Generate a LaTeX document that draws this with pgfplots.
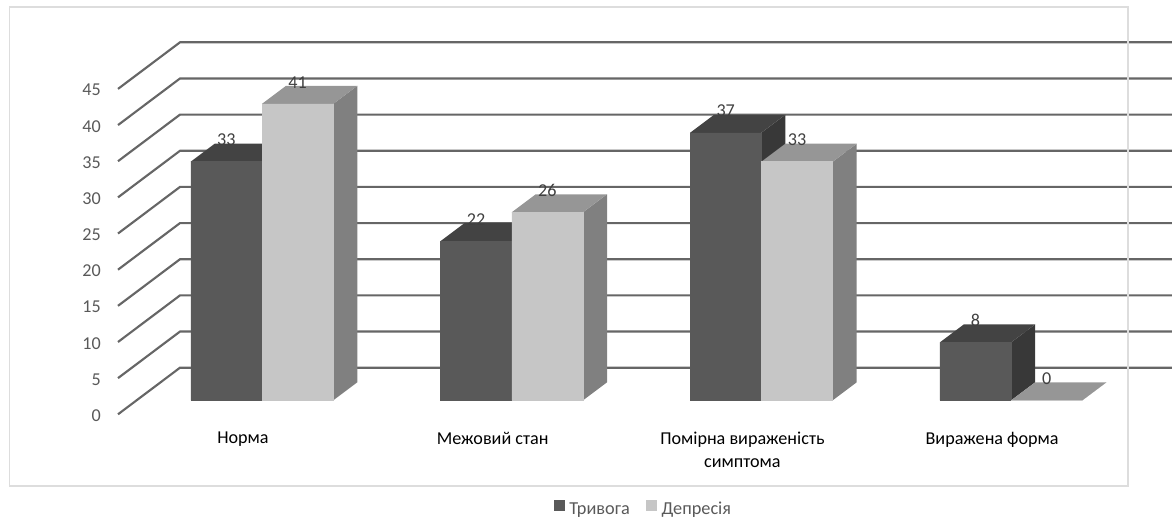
\documentclass[border=0pt]{standalone}
\usepackage{fontspec}
\setmainfont{Carlito}
\usepackage{pgfplots}
\usepackage{pgfplotstable}
\pgfplotsset{compat=1.18}

\definecolor{gridc}{HTML}{666666}
\definecolor{framec}{HTML}{DDDDDD}
\definecolor{darkfront}{HTML}{595959}
\definecolor{darktop}{HTML}{434343}
\definecolor{darkside}{HTML}{383838}
\definecolor{lightfront}{HTML}{C6C6C6}
\definecolor{lighttop}{HTML}{969696}
\definecolor{lightside}{HTML}{808080}
\definecolor{ticktext}{HTML}{595959}
\definecolor{valtext}{HTML}{404040}

% Values per category; pos is the centre of the cluster
\pgfplotstableread{
pos trevoga depresia
0   33      41
1   22      26
2   37      33
3   8       0
}\results

% Half bar width and the receding depth of the 3D bars, in data units
\def\halfbar{0.1428}
\def\depthx{0.0961}
\def\depthy{2.489}

% Top and side faces of one bar: row, column, x shift of the bar, side colour, top colour
\newcommand\barfaces[5]{%
  \pgfplotstablegetelem{#1}{#2}\of\results
  \pgfmathsetmacro\vv{\pgfplotsretval}%
  \pgfmathsetmacro\xl{#1+#3-\halfbar}%
  \pgfmathsetmacro\xr{#1+#3+\halfbar}%
  \pgfmathsetmacro\xlb{\xl+\depthx}%
  \pgfmathsetmacro\xrb{\xr+\depthx}%
  \pgfmathsetmacro\vb{\vv+\depthy}%
  \edef\doplot{\noexpand\addplot[forget plot,fill=#4,draw=none] coordinates
    {(\xr,0) (\xrb,\depthy) (\xrb,\vb) (\xr,\vv)} -- cycle;
    \noexpand\addplot[forget plot,fill=#5,draw=none] coordinates
    {(\xl,\vv) (\xlb,\vb) (\xrb,\vb) (\xr,\vv)} -- cycle;}%
  \doplot
}

\begin{document}
\begin{tikzpicture}
\useasboundingbox (0,0) rectangle (879pt,389.25pt);
\begin{axis}[
  at={(0,0)}, anchor=south west,
  scale only axis, width=879pt, height=389.25pt,
  xmin=-1.04925, xmax=3.6444, ymin=-16.416, ymax=55.36,
  clip=false,
  axis line style={draw=none},
  tick style={draw=none},
  major tick length=0pt,
  /pgf/number format/assume math mode=true,
  font=\fontsize{13.6pt}{17.2pt}\selectfont,
  xtick={0,1,2,3},
  xticklabels={Норма,Межовий стан,{Помірна вираженість\\симптома},Виражена форма},
  xticklabel style={anchor=north, xshift=-14.25pt, yshift=65.6pt, align=center, inner sep=0pt, text=black},
  ytick={-1.936,3.064,8.064,13.064,18.064,23.064,28.064,33.064,38.064,43.064},
  yticklabels={0,5,10,15,20,25,30,35,40,45},
  yticklabel style={anchor=east, xshift=75.75pt, yshift=-0.9pt, inner sep=0pt, text=ticktext},
  legend columns=2,
  legend style={at={(0.5495,0.0173)}, anchor=center, draw=none, fill=none, inner sep=0pt,
    text=ticktext, font=\fontsize{13.7pt}{15pt}\selectfont,
    nodes={text height=9.5pt, text depth=3pt},
    /tikz/every odd column/.append style={column sep=1.5pt},
    /tikz/every even column/.append style={column sep=10.5pt}},
  legend cell align=left,
]
% Wall and floor lines
\pgfplotsinvokeforeach{0,5,...,45}{
  \pgfmathsetmacro\yfront{#1-1.936}
  \pgfmathsetmacro\yback{#1+4.508}
  \edef\doline{\noexpand\addplot[forget plot,draw=gridc,line width=1.6pt] coordinates
    {(-0.5767,\yfront) (-0.3284,\yback) (3.6444,\yback)};}
  \doline
}
% Chart area border
\addplot[forget plot,draw=framec,line width=1.1pt] coordinates
  {(-1.0112,54.39) (3.4682,54.39) (3.4682,-11.85) (-1.0112,-11.85)} -- cycle;

% Value labels sit behind the bars
\addplot[forget plot,draw=none,nodes near coords,
  nodes near coords style={anchor=center,yshift=16.2pt,inner sep=0pt,text=valtext}]
  table[x expr=\thisrow{pos}-\halfbar,y=trevoga]{\results};
\addplot[forget plot,draw=none,nodes near coords,
  nodes near coords style={anchor=center,yshift=16.2pt,inner sep=0pt,text=valtext}]
  table[x expr=\thisrow{pos}+\halfbar,y=depresia]{\results};

% Dark series
\barfaces{0}{trevoga}{-\halfbar}{darkside}{darktop}
\barfaces{1}{trevoga}{-\halfbar}{darkside}{darktop}
\barfaces{2}{trevoga}{-\halfbar}{darkside}{darktop}
\barfaces{3}{trevoga}{-\halfbar}{darkside}{darktop}
\addplot[ybar,bar width=53.3pt,bar shift=-26.74pt,fill=darkfront,draw=darkfront,line width=0.3pt,
  legend image code/.code={\fill[darkfront] (0pt,-0.5pt) rectangle (7.5pt,7pt);}]
  table[x=pos,y=trevoga]{\results};
\addlegendentry{Тривога}

% Light series
\barfaces{0}{depresia}{\halfbar}{lightside}{lighttop}
\barfaces{1}{depresia}{\halfbar}{lightside}{lighttop}
\barfaces{2}{depresia}{\halfbar}{lightside}{lighttop}
\barfaces{3}{depresia}{\halfbar}{lightside}{lighttop}
\addplot[ybar,bar width=53.3pt,bar shift=26.74pt,fill=lightfront,draw=lightfront,line width=0.3pt,
  legend image code/.code={\fill[lightfront] (0pt,-0.5pt) rectangle (7.5pt,7pt);}]
  table[x=pos,y=depresia]{\results};
\addlegendentry{Депресія}
\end{axis}
\end{tikzpicture}
\end{document}
